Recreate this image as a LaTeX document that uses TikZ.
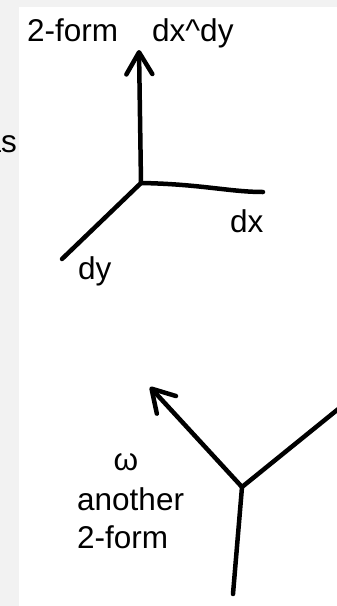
\documentclass[tikz,border=0pt]{standalone}
\usepackage{fontspec}
\setmainfont{Liberation Sans}
\usetikzlibrary{arrows.meta}
\definecolor{pagebg}{RGB}{242,242,242}
\tikzset{
  sketch/.style={line width=4.5pt, black, line cap=round, line join=round},
  arrowed/.style={sketch, -{Straight Barb[length=22pt, width=26pt, line cap=round, line join=round]}},
  lbl/.style={font=\fontsize{31.5}{38}\selectfont, inner sep=0pt, anchor=base west}
}
\begin{document}
\begin{tikzpicture}[x=1pt, y=-1pt]
\useasboundingbox (0,0) rectangle (337,606);
\fill[pagebg] (0,0) rectangle (337,606);
\fill[white] (19,7) rectangle (337,606);
\begin{scope}
\clip (0,0) rectangle (337,606);
% labels
\node[lbl, anchor=base east] (as) at (17,152) {as};
\node[lbl] (twoform) at (27,41) {2-form};
\node[lbl] (dxdy) at (152,41) {dx\^{}dy};
\node[lbl] (dx) at (230,232) {dx};
\node[lbl] (dy) at (78,279) {dy};
\node[lbl, anchor=base] (omega) at (126,470) {ω};
\node[lbl] (another) at (77,510) {another};
\node[lbl] (twoformb) at (77,548) {2-form};
% upper frame
\coordinate (o1) at (141,183);
\coordinate (up1) at (139,50);
\coordinate (xend) at (263,192);
\coordinate (yend) at (62,259);
\draw[arrowed] (o1) -- (up1);
\draw[sketch] (o1) .. controls (200,184) and (230,192) .. (xend);
\draw[sketch] (o1) -- (yend);
% lower frame
\coordinate (o2) at (242,487);
\coordinate (up2) at (150,387);
\coordinate (rend) at (342,406);
\coordinate (dend) at (233,594);
\draw[arrowed] (o2) -- (up2);
\draw[sketch] (o2) -- (rend);
\draw[sketch] (o2) -- (dend);
\end{scope}
\end{tikzpicture}
\end{document}
